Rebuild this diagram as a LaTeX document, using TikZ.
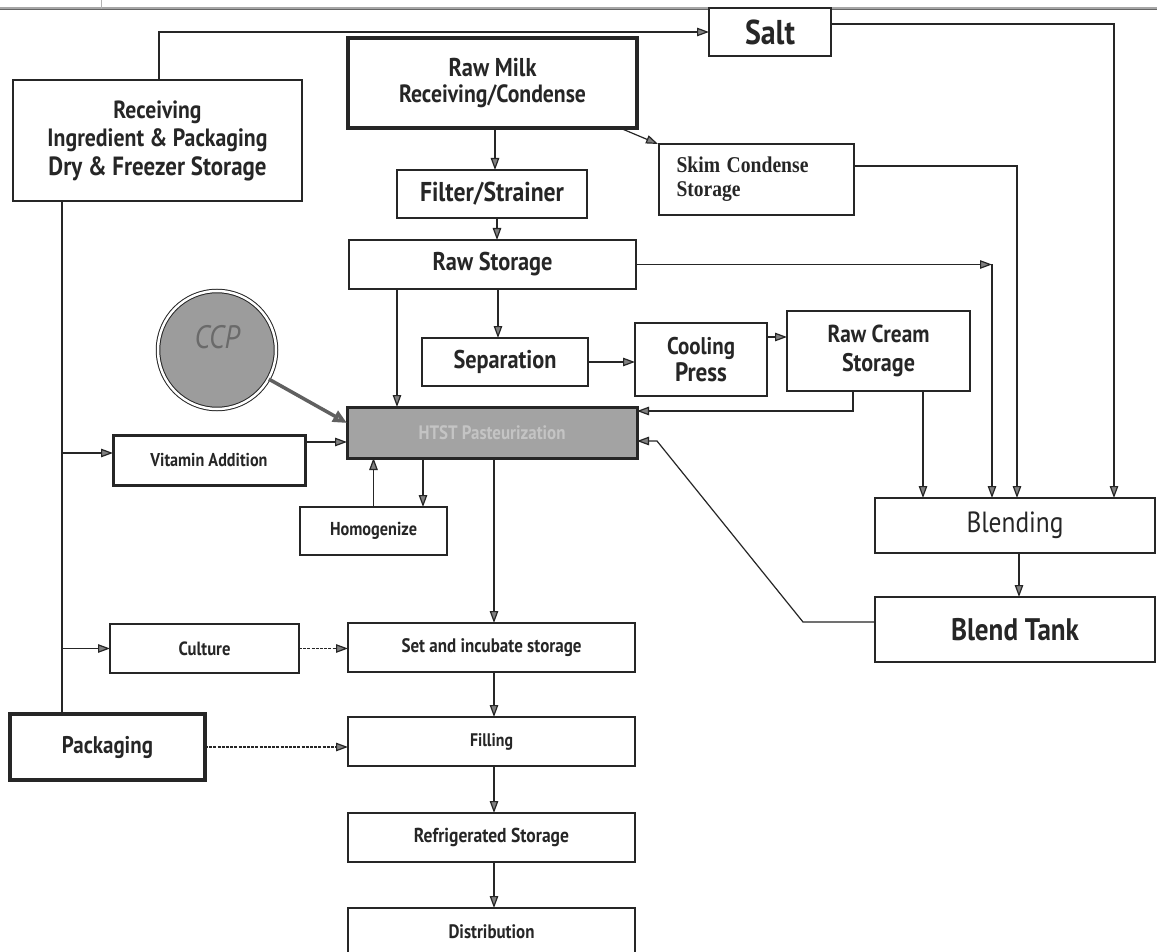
\documentclass[tikz,border=0pt]{standalone}
\usepackage{fontspec}
\usepackage{graphicx}
\setmainfont{PT Sans}
\newfontfamily\skfont{Liberation Serif}
\usetikzlibrary{arrows.meta,calc}
\definecolor{htfill}{HTML}{A3A3A3}
\definecolor{httext}{HTML}{C4C4C4}
\definecolor{ccpfill}{HTML}{9C9C9C}
\definecolor{ccptext}{HTML}{6A6A6A}
\definecolor{ink}{HTML}{262626}
\newcommand\fw[2]{\resizebox{#1pt}{!}{\scalebox{1}[1.15]{#2}}}
\begin{document}
\begin{tikzpicture}[x=1pt,y=-1pt,
  box/.style={rectangle, draw=ink, line width=1.3pt, fill=white, inner sep=0pt, outer sep=0pt,
    align=center, text=ink, font=\bfseries\fontsize{18pt}{26pt}\selectfont},
  arr/.style={draw=ink, line width=1.2pt, -{Triangle[length=12pt,width=8.5pt,fill=black!50]}},
  plain/.style={draw=ink, line width=1.2pt},
  dsh/.style={arr, dash pattern=on 3pt off 1.2pt},
  ccparr/.style={draw=gray!75!black, line width=3.5pt, -{Triangle[length=14pt,width=12pt,fill=gray!70]}}
]
\clip (0,0) rectangle (1157,952);
\fill[white] (0,0) rectangle (1157,952);
% scanned top rule
\draw[draw=gray!70, line width=3pt] (0,9) -- (1157,9);
\draw[draw=black!60, line width=1pt] (0,9.5) -- (1157,9.5);
\draw[draw=gray!60, line width=1pt] (101,0) -- (101,9);

% nodes
\node[box, line width=2pt, minimum width=289pt, minimum height=121pt, font=\bfseries\fontsize{18pt}{28.5pt}\selectfont] (rec) at (157.5,140.5)
  {\fw{88}{Receiving}\\\fw{220}{Ingredient \& Packaging}\\\fw{218}{Dry \& Freezer Storage}};
\node[box, line width=4pt, minimum width=289pt, minimum height=90pt] (raw) at (492.5,83)
  {\fw{88}{Raw Milk}\\\fw{187}{Receiving/Condense}};
\node[box, minimum width=122pt, minimum height=48pt] (salt) at (770,32) {\fw{50}{Salt}};
\node[box, minimum width=195pt, minimum height=71pt, text width=160pt, align=left,
  font=\skfont\bfseries\fontsize{18pt}{24pt}\selectfont] (skim) at (756.5,179.5)
  {\fw{132}{Skim Condense}\\\fw{64}{Storage}};
\node[box, minimum width=190pt, minimum height=48pt] (filt) at (492,194) {\fw{144}{Filter/Strainer}};
\node[box, minimum width=287pt, minimum height=49pt] (rst) at (492.5,264.5) {\fw{120}{Raw Storage}};
\node[box, minimum width=166pt, minimum height=48pt] (sep) at (505,362) {\fw{103}{Separation}};
\node[box, minimum width=132pt, minimum height=73pt, font=\bfseries\fontsize{18pt}{27pt}\selectfont] (cool) at (701,359.5)
  {\fw{68}{Cooling}\\\fw{52}{Press}};
\node[box, minimum width=183pt, minimum height=80pt, font=\bfseries\fontsize{18pt}{29pt}\selectfont] (cream) at (878.5,351)
  {\fw{102}{Raw Cream}\\\fw{73}{Storage}};
\node[box, line width=3pt, fill=htfill, text=httext, minimum width=290pt, minimum height=51pt] (htst) at (492,432.5)
  {\fw{147}{HTST Pasteurization}};
\node[box, line width=3pt, minimum width=192pt, minimum height=50pt] (vit) at (209,460) {\fw{117}{Vitamin Addition}};
\node[box, minimum width=147pt, minimum height=48pt] (hom) at (373.5,531) {\fw{87}{Homogenize}};
\node[box, minimum width=280pt, minimum height=55pt, font=\mdseries\fontsize{18pt}{26pt}\selectfont] (blend) at (1015,525.5) {\fw{97}{Blending}};
\node[box, minimum width=280pt, minimum height=65pt] (tank) at (1015,629.5) {\fw{128}{Blend Tank}};
\node[box, minimum width=189pt, minimum height=49pt] (cult) at (204.5,648.5) {\fw{52}{Culture}};
\node[box, minimum width=287pt, minimum height=49pt] (set) at (491.5,647.5) {\fw{180}{Set and incubate storage}};
\node[box, line width=4pt, minimum width=195pt, minimum height=66pt] (pack) at (107.5,747) {\fw{91}{Packaging}};
\node[box, minimum width=287pt, minimum height=49pt] (fill) at (491.5,741.5) {\fw{43}{Filling}};
\node[box, minimum width=287pt, minimum height=49pt] (refr) at (491.5,837.5) {\fw{155}{Refrigerated Storage}};
\node[box, minimum width=287pt, minimum height=48pt] (dist) at (491.5,932) {\fw{86}{Distribution}};

% CCP circle
\node[circle, draw=ink, line width=1pt, double=white, double distance=2.5pt, fill=ccpfill,
  minimum size=118pt, inner sep=0pt] (ccp) at (217,350) {};
\node[text=ccptext, font=\itshape\fontsize{18pt}{22pt}\selectfont, inner sep=0pt] (ccpt) at (217,337) {\fw{45}{CCP}};

% helper coordinates
\coordinate (tt) at ([xshift=49pt]rec.south west);
\coordinate (rn) at ([xshift=1.5pt]rec.north);
\coordinate (se) at ([yshift=8pt]salt.east);
\coordinate (bn4) at ([xshift=99pt]blend.north);
\coordinate (ske) at ([yshift=13.5pt]skim.east);
\coordinate (bn3) at ([xshift=2pt]blend.north);
\coordinate (bn1) at ([xshift=-23pt]blend.north);
\coordinate (rc) at (bn1 |- rst.east);
\coordinate (rs) at ([xshift=2.5pt]raw.south);
\coordinate (fs) at ([xshift=5pt]filt.south);
\coordinate (rsw) at ([xshift=48pt]rst.south west);
\coordinate (rss) at ([xshift=5.5pt]rst.south);
\coordinate (ce) at ([yshift=22.5pt]cool.east);
\coordinate (crb) at ([xshift=-25.5pt]cream.south);
\coordinate (hte1) at ([yshift=-4pt]htst.north east);
\coordinate (crb2) at ([xshift=44.5pt]cream.south);
\coordinate (tw) at ([yshift=7.5pt]tank.west);
\coordinate (bend1) at ([xshift=-72pt]tw);
\coordinate (hte2) at ([yshift=-8.5pt]htst.east);
\coordinate (bend2) at ([xshift=20pt]hte2);
\coordinate (bs) at ([xshift=4pt]blend.south);
\coordinate (ve) at ([yshift=18pt]vit.east);
\coordinate (vw) at ([yshift=7pt]vit.west);
\coordinate (hn) at ([xshift=-24pt]hom.north east);
\coordinate (hs) at ([xshift=2pt]htst.south);
\coordinate (ss) at ([xshift=2.5pt]set.south);
\coordinate (fls) at ([xshift=2.5pt]fill.south);
\coordinate (rfs) at ([xshift=2.5pt]refr.south);
\coordinate (ccpin) at ([yshift=-16pt]htst.north west);

% connectors
\draw[arr] (rn) |- (salt.west);
\draw[arr] (se) -| (bn4);
\draw[arr] (ske) -| (bn3);
\draw[arr] (rs) -- (rs |- filt.north);
\draw[arr] ([xshift=-17pt]raw.south east) -- ([xshift=-1pt]skim.north west);
\draw[arr] (fs) -- (fs |- rst.north);
\draw[arr] (rst.east) -- (rc);
\draw[arr] (rc) -- (bn1);
\draw[arr] (rsw) -- (rsw |- htst.north);
\draw[arr] (rss) -- (rss |- sep.north);
\draw[arr] (sep.east) -- (sep.east -| cool.west);
\draw[arr] (ce) -- (ce -| cream.west);
\draw[arr] (crb) |- (hte1);
\draw[arr] (crb2) -- (crb2 |- blend.north);
\draw[arr] (tw) -- (bend1) -- (bend2) -- (hte2);
\draw[arr] (bs) -- (bs |- tank.north);
\draw[arr] (ve) -- (ve -| htst.west);
\draw[arr] (hom.north) -- (hom.north |- htst.south);
\draw[arr] (hn |- htst.south) -- (hn);
\draw[arr] (hs) -- (hs |- set.north);
\draw[arr] (ss) -- (ss |- fill.north);
\draw[arr] (fls) -- (fls |- refr.north);
\draw[arr] (rfs) -- (rfs |- dist.north);
\draw[plain] (tt) -- (tt |- pack.north);
\draw[arr] (vw -| tt) -- (vw);
\draw[arr] (cult.west -| tt) -- (cult.west);
\draw[dsh] (cult.east) -- (cult.east -| set.west);
\draw[dsh] (pack.east) -- (pack.east -| fill.west);
\draw[ccparr] (ccp) -- (ccpin);
\end{tikzpicture}
\end{document}
